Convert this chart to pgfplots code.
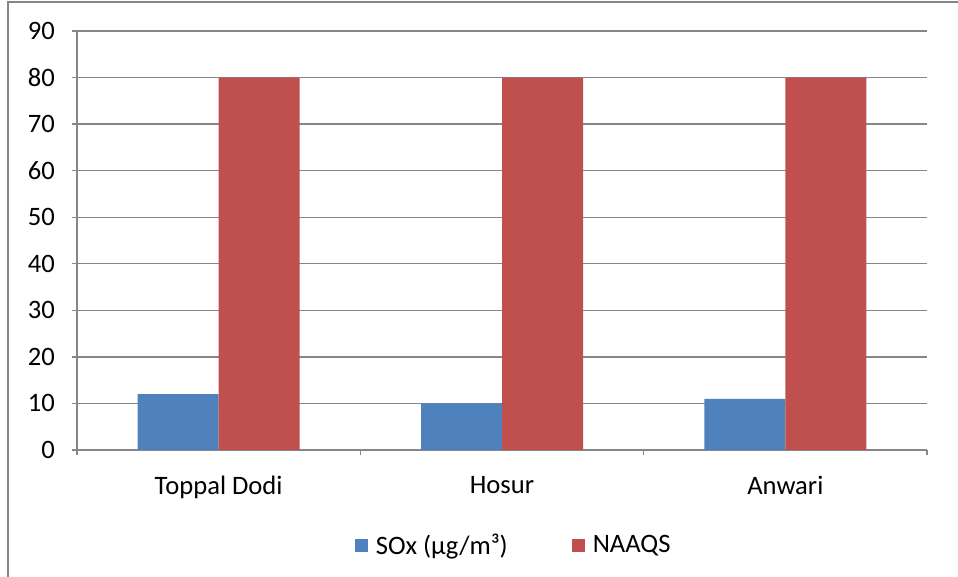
\documentclass[border=0pt]{standalone}
\usepackage{pgfplots}
\pgfplotsset{compat=1.18}
\usepackage{fontspec}
\setmainfont{Carlito}
\definecolor{soxblue}{HTML}{4F81BD}
\definecolor{naaqsred}{HTML}{C0504D}
\definecolor{gridgray}{HTML}{868686}
\begin{document}
\fontsize{13.3bp}{15bp}\selectfont
\begin{tikzpicture}
\path[use as bounding box] (0,0) rectangle (479bp,288.5bp);
\draw[gridgray, line width=0.9bp] (4bp,0) -- (4bp,287.5bp) -- (479bp,287.5bp);
\begin{axis}[
  at={(38.5bp,63.5bp)}, anchor=south west,
  scale only axis, width=425bp, height=209.5bp,
  ybar=0pt, bar width=40.5bp,
  xmin=-0.5, xmax=2.5, ymin=0, ymax=90,
  xtick={0,1,2},
  xticklabels={Toppal Dodi, Hosur, Anwari},
  minor xtick={-0.5,0.5,1.5,2.5},
  major x tick style={draw=none},
  ytick={0,10,...,90},
  tick align=outside,
  major tick length=2.5bp, minor tick length=2.5bp,
  tick style={gridgray, line width=0.7bp},
  axis x line*=bottom, axis y line*=left,
  axis line style={gridgray, line width=0.8bp},
  ymajorgrids, grid style={gridgray, line width=0.7bp},
  tick label style={font=\fontsize{13.3bp}{15bp}\selectfont, black},
  /pgf/number format/assume math mode=true,
  yticklabel style={xshift=-4bp},
  xticklabel style={yshift=-6bp},
  legend columns=2,
  legend style={draw=none, at={(0.515,-0.229)}, anchor=center,
    font=\fontsize{13.3bp}{15bp}\selectfont,
    /tikz/every even column/.append style={column sep=30bp}},
  legend image code/.code={\fill[#1, draw=none] (0bp,-3.25bp) rectangle (6.5bp,3.25bp);},
]
\addplot[fill=soxblue, draw=none] coordinates {(0,12) (1,10) (2,11)};
\addplot[fill=naaqsred, draw=none] coordinates {(0,80) (1,80) (2,80)};
\legend{\hspace{2bp}SOx (µg/m³), \hspace{2bp}NAAQS}
\end{axis}
\end{tikzpicture}
\end{document}
